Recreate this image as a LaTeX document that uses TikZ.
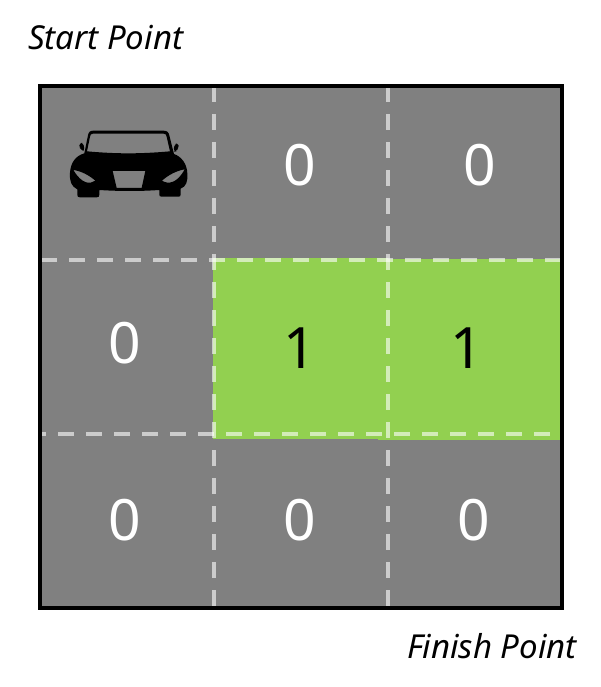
\documentclass[tikz,border=0pt]{standalone}
\usepackage{fontspec}
\setmainfont{Noto Sans}
\tikzset{
  cellfill/.style={fill=graycell,draw=none},
  hotfill/.style={fill=greencell,draw=none},
  gridline/.style={draw=white,draw opacity=0.6,line width=4pt,dash pattern=on 16pt off 12pt},
  frameline/.style={draw=black,line width=4pt},
  wnum/.style={text=white,font=\fontsize{57}{60}\selectfont,inner sep=0pt},
  bnum/.style={text=black,font=\fontsize{57}{60}\selectfont,inner sep=0pt},
  caption/.style={text=black,font=\fontsize{33}{36}\selectfont\itshape,inner sep=0pt}
}
\definecolor{graycell}{HTML}{808080}
\definecolor{greencell}{HTML}{92D050}
\begin{document}
\begin{tikzpicture}[x=1pt,y=-1pt]
\useasboundingbox (0,0) rectangle (601,687);
\fill[white] (0,0) rectangle (601,687);
\path[cellfill] (40,86) rectangle (562,608);
\path[hotfill] (213,258) rectangle (388,439);
\path[hotfill] (378,259) rectangle (560,440);
\draw[gridline] (214,86) -- (214,608);
\draw[gridline] (388,86) -- (388,608);
\draw[gridline] (41,260) -- (560,260);
\draw[gridline,dash phase=12pt] (42,434) -- (562,434);
\draw[frameline] (40,86) rectangle (562,608);
% car
\begin{scope}[shift={(40,90)},x=0.3333pt,y=-0.3333pt]
\fill[black,even odd rule]
  (112,298) -- (112,314) .. controls (112,320) and (114,322) .. (120,322) -- (170,322) .. controls (176,322) and (178,320) .. (178,314) -- (178,300)
  .. controls (240,304) and (300,304) .. (358,300) -- (358,314) .. controls (358,319) and (360,320) .. (366,320) -- (416,320) .. controls (421,320) and (422,318) .. (422,312) -- (422,296)
  .. controls (438,290) and (444,275) .. (442,250) .. controls (441,222) and (425,200) .. (402,192)
  -- (388,136) .. controls (386,126) and (380,122) .. (370,122) -- (160,122) .. controls (150,122) and (146,126) .. (144,136)
  -- (133,190) .. controls (105,198) and (92,220) .. (90,248) .. controls (88,275) and (95,290) .. (112,298) -- cycle
  (159,131) -- (371,131) .. controls (377,131) and (379,134) .. (380,140) -- (390,184) .. controls (300,192) and (230,192) .. (141,184) -- (150,140) .. controls (151,134) and (153,131) .. (159,131) -- cycle
  (100,240) .. controls (125,243) and (150,258) .. (166,272) .. controls (150,284) and (125,282) .. (100,240) -- cycle
  (434,238) .. controls (410,242) and (385,255) .. (366,272) .. controls (385,284) and (412,280) .. (434,238) -- cycle
  (218,243) -- (316,243) -- (305,294) -- (230,294) -- cycle;
\fill[black,rounded corners=3pt] (118,160) -- (130,158) -- (134,184) -- (125,180) -- (118,172) -- cycle;
\fill[black,rounded corners=3pt] (403,162) -- (416,160) -- (416,174) -- (408,184) -- (401,186) -- cycle;
\end{scope}
\node[wnum] (n12) at (300,165) {0};
\node[wnum] (n13) at (480,165) {0};
\node[wnum] (n21) at (125,343) {0};
\node[bnum] (n22) at (300,348) {1};
\node[bnum] (n23) at (467,348) {1};
\node[wnum] (n31) at (125,520) {0};
\node[wnum] (n32) at (300,520) {0};
\node[wnum] (n33) at (474,520) {0};
\node[caption,anchor=base west] (start) at (28,50) {Start Point};
\node[caption,anchor=base east] (finish) at (577,658) {Finish Point};
\end{tikzpicture}
\end{document}
